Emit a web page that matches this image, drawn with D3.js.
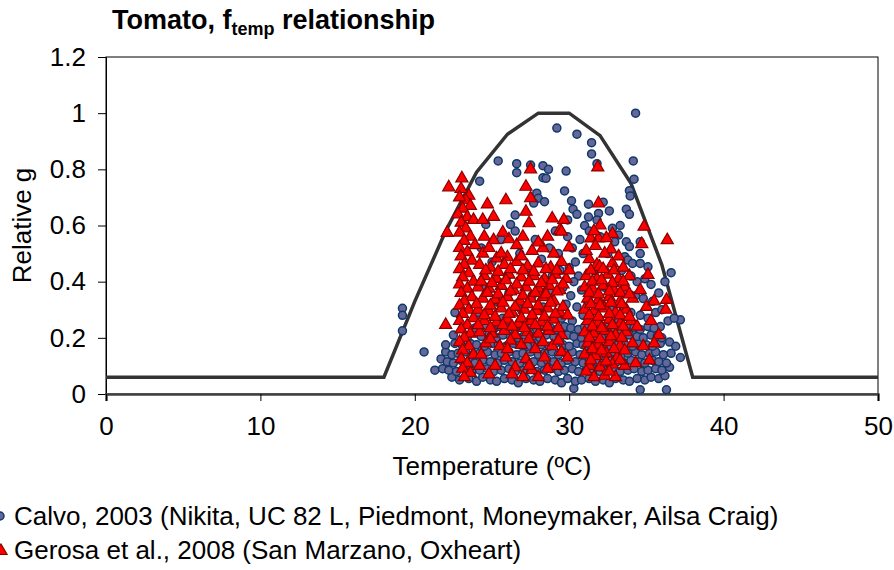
<!DOCTYPE html>
<html>
<head>
<meta charset="utf-8">
<script src="https://cdn.jsdelivr.net/npm/d3@7"></script>
<style>
  body { margin: 0; background: #fff; }
  svg { display: block; font-family: "Liberation Sans", Arial, sans-serif; }
</style>
</head>
<body>
<div id="chart"></div>
<script>
// tick labels
var xTicks = [0, 10, 20, 30, 40, 50];
var yTicks = [0, 0.2, 0.4, 0.6, 0.8, 1, 1.2];

// f_temp model line
var curveT = [0, 18, 20, 22, 24, 26, 28, 30, 32, 34, 36, 38, 50];
var curveG = [0.06, 0.06, 0.33, 0.58, 0.79, 0.925, 1.0, 1.0, 0.92, 0.75, 0.46, 0.06, 0.06];

// Calvo, 2003  [temperature, relative g]
var calvo = [
  [19.2,0.305],[19.2,0.28],[19.2,0.225],[20.6,0.15],[21.3,0.085],
  [34.3,1.0],[29.2,0.947],[30.5,0.925],[31.45,0.895],[31.45,0.855],[31.8,0.82],[34.15,0.83],[34.2,0.765],[33.9,0.724],[33.95,0.705],
  [28.3,0.813],[28.66,0.80],[28.3,0.77],[29.8,0.794],[29.7,0.723],[30.15,0.688],[30.25,0.658],[30.5,0.64],
  [31.25,0.676],[32.2,0.683],[32.6,0.652],[31.9,0.643],[31.25,0.63],[31.8,0.62],[33.7,0.658],[33.9,0.64],
  [25.4,0.83],[26.6,0.82],[26.6,0.788],[24.2,0.758],[27.5,0.815],[28.5,0.768],
  [26.5,0.637],[26.2,0.604],[26.5,0.58],[24.6,0.604],[27.9,0.715],[28.0,0.697],[28.4,0.685],[27.7,0.68],
  [32.8,0.59],[33.3,0.60],[33.2,0.566],[32.95,0.542],[33.7,0.542],[33.9,0.525],[33.6,0.489],[33.8,0.477],[34.1,0.465],
  [34.6,0.50],[34.6,0.465],[35.1,0.453],[34.6,0.542],[36.6,0.432],
  [37.2,0.264],[36.5,0.185],[36.9,0.17],[36.6,0.145],[37.2,0.13],[34.6,0.015],[36.3,0.015],[30.3,0.02],
  [24.3,0.52],[25.0,0.47],[25.6,0.55],[26.0,0.42],[26.8,0.50],[27.3,0.45],[27.8,0.55],[28.2,0.48],[28.7,0.52],[28.9,0.42],
  [24.6,0.38],[25.3,0.33],[26.1,0.36],[26.9,0.30],[27.6,0.35],[28.3,0.31],[28.8,0.36],[29.1,0.58],[29.3,0.50],[29.4,0.44],
  [29.6,0.38],[29.8,0.32],[29.5,0.27],[24.1,0.29],[25.7,0.27],
  [29.9,0.56],[30.2,0.52],[30.4,0.47],[30.6,0.42],[30.3,0.40],[30.8,0.37],[30.1,0.35],[30.5,0.31],[30.9,0.28],[30.2,0.26],
  [30.7,0.55],[30.9,0.50],[30.0,0.45],[31.0,0.60],[29.9,0.62],
  [33.4,0.44],[34.0,0.42],[34.4,0.40],[34.9,0.41],[35.3,0.39],[33.7,0.37],[34.3,0.35],[34.8,0.34],[35.4,0.33],[35.8,0.36],
  [33.5,0.31],[34.0,0.29],[34.6,0.28],[35.1,0.27],[35.6,0.29],[36.0,0.30],[36.4,0.26],[33.2,0.26],[35.9,0.24],[36.2,0.40],[36.8,0.27],
  [31.3,0.58],[32.0,0.56],[32.5,0.50],[31.6,0.44],[32.3,0.38],[31.2,0.33],[32.7,0.30],[31.9,0.27],
  [22.4,0.06],[22.9,0.05],[23.5,0.055],[24.0,0.045],[24.4,0.06],[24.9,0.05],[25.3,0.045],[25.8,0.055],[26.3,0.05],[26.7,0.04],
  [27.2,0.055],[27.7,0.05],[28.1,0.045],[28.6,0.055],[29.1,0.05],[29.5,0.04],[29.9,0.055],[30.4,0.045],[30.8,0.05],[31.3,0.055],
  [31.7,0.045],[32.2,0.05],[32.6,0.04],[33.0,0.055],[33.5,0.05],[33.9,0.045],[34.4,0.055],[34.9,0.05],[35.3,0.06],[35.8,0.055],[36.2,0.065],
  [21.8,0.09],[22.2,0.085],[22.7,0.08],[23.2,0.09],[23.7,0.08],[24.2,0.085],[24.7,0.09],[25.1,0.08],[25.6,0.085],[26.1,0.09],
  [26.5,0.08],[27.0,0.085],[27.5,0.09],[27.9,0.08],[28.4,0.085],[28.8,0.09],[29.3,0.08],[29.7,0.085],[30.2,0.09],[30.6,0.08],
  [31.1,0.085],[31.5,0.09],[32.0,0.08],[32.4,0.085],[32.9,0.09],[33.3,0.08],[33.8,0.085],[34.2,0.09],[34.7,0.08],[35.1,0.085],
  [35.6,0.09],[36.0,0.085],[36.5,0.095],
  [21.7,0.125],[22.1,0.115],[22.5,0.11],[23.0,0.12],[23.5,0.115],[23.9,0.11],[24.4,0.12],[24.9,0.115],[25.4,0.11],[25.8,0.12],
  [26.3,0.115],[26.8,0.11],[27.2,0.12],[27.7,0.115],[28.2,0.11],[28.6,0.12],[29.0,0.115],[29.5,0.11],[29.9,0.12],[30.4,0.115],
  [30.9,0.11],[31.3,0.12],[31.8,0.115],[32.2,0.11],[32.7,0.12],[33.1,0.115],[33.6,0.11],[34.0,0.12],[34.5,0.115],[34.9,0.11],
  [35.4,0.12],[35.8,0.115],[36.3,0.11],
  [22.0,0.15],[22.4,0.14],[22.8,0.145],[23.3,0.15],[23.8,0.14],[24.2,0.145],[24.7,0.15],[25.2,0.14],[25.6,0.145],[26.1,0.15],
  [26.6,0.14],[27.0,0.145],[27.5,0.15],[28.0,0.14],[28.4,0.145],[28.9,0.15],[29.3,0.14],[29.8,0.145],[30.2,0.15],[30.7,0.14],
  [31.1,0.145],[31.6,0.15],[32.0,0.14],[32.5,0.145],[32.9,0.15],[33.4,0.14],[33.8,0.145],[34.3,0.15],[34.7,0.14],[35.2,0.145],
  [35.6,0.15],[36.1,0.14],
  [22.0,0.175],[22.6,0.18],[23.1,0.17],[23.6,0.18],[24.0,0.175],[24.5,0.17],[25.0,0.18],[25.4,0.175],[25.9,0.17],[26.4,0.18],
  [26.8,0.175],[27.3,0.17],[27.8,0.18],[28.2,0.175],[28.7,0.17],[29.1,0.18],[29.6,0.175],[30.0,0.17],[30.5,0.18],[30.9,0.175],
  [31.4,0.17],[31.8,0.18],[32.3,0.175],[32.7,0.17],[33.2,0.18],[33.6,0.175],[34.1,0.17],[34.5,0.18],[35.0,0.175],[35.4,0.17],[35.9,0.18],
  [22.5,0.21],[23.4,0.2],[24.3,0.205],[24.8,0.21],[25.3,0.2],[25.7,0.21],[26.2,0.205],[26.7,0.2],[27.1,0.21],[27.6,0.205],
  [28.1,0.2],[28.5,0.21],[29.0,0.205],[29.4,0.2],[29.9,0.21],[30.3,0.205],[30.8,0.2],[31.2,0.21],[31.7,0.205],[32.1,0.2],
  [32.6,0.21],[33.0,0.205],[33.5,0.2],[33.9,0.21],[34.4,0.205],[34.8,0.2],[35.3,0.21],[35.7,0.205],
  [22.6,0.29],[23.9,0.235],[24.6,0.24],[25.1,0.23],[25.5,0.24],[26.0,0.235],[26.5,0.23],[27.0,0.24],[27.4,0.235],[27.9,0.23],
  [28.3,0.24],[28.8,0.235],[29.2,0.23],[29.7,0.24],[30.1,0.235],[30.6,0.23],[31.0,0.24],[31.5,0.235],[31.9,0.23],[32.4,0.24],
  [32.8,0.235],[33.3,0.23],[33.7,0.24],[34.2,0.235],[34.6,0.23],[35.1,0.24],[35.5,0.235],[36.0,0.2]
];

// Gerosa et al., 2008  [temperature, relative g]
var gerosa = [
  [23.05,0.768],[22.2,0.736],[23.5,0.706],[23.0,0.73],[23.3,0.69],[22.9,0.70],[23.6,0.67],[23.1,0.66],[22.8,0.64],[23.4,0.63],
  [23.8,0.62],[23.0,0.61],[23.3,0.59],[22.9,0.575],[22.1,0.574],[23.6,0.56],[23.2,0.545],[23.9,0.53],[22.9,0.52],[23.4,0.505],
  [23.0,0.49],[23.7,0.475],[23.2,0.46],[22.9,0.445],[23.5,0.43],[23.1,0.415],[23.8,0.40],[22.9,0.39],[23.4,0.375],[23.0,0.36],
  [23.7,0.345],[23.2,0.33],[22.9,0.315],[23.5,0.30],[23.1,0.285],[23.8,0.27],[22.9,0.26],[23.4,0.245],[22.0,0.246],[23.0,0.23],
  [23.6,0.215],[23.2,0.20],[22.9,0.185],[23.5,0.17],[23.1,0.155],[23.8,0.14],[23.0,0.125],[23.4,0.11],[23.1,0.09],[23.6,0.075],[23.2,0.06],
  [24.7,0.675],[25.9,0.69],[27.5,0.80],[27.2,0.738],[27.5,0.697],[27.2,0.649],[27.4,0.608],[24.4,0.62],[25.1,0.631],[25.1,0.548],
  [26.1,0.551],[26.6,0.53],[28.9,0.625],[29.4,0.584],[28.3,0.519],[28.6,0.56],[24.4,0.50],[25.3,0.483],[26.0,0.487],[29.65,0.62],
  [29.5,0.578],[30.0,0.522],
  [24.2,0.46],[24.9,0.45],[25.8,0.46],[26.6,0.47],[27.3,0.455],[28.0,0.465],[28.8,0.45],[29.5,0.47],
  [24.5,0.42],[25.3,0.41],[26.1,0.425],[26.9,0.415],[27.7,0.42],[28.4,0.41],[29.1,0.425],[29.8,0.41],
  [24.1,0.38],[24.8,0.375],[25.6,0.385],[26.4,0.37],[27.2,0.38],[28.0,0.375],[28.7,0.385],[29.4,0.37],
  [24.4,0.34],[25.2,0.335],[26.0,0.345],[26.8,0.33],[27.5,0.34],[28.3,0.345],[29.0,0.33],
  [24.1,0.30],[24.8,0.295],[25.6,0.305],[26.3,0.29],[27.1,0.30],[27.9,0.295],[28.6,0.305],[29.4,0.29],
  [24.5,0.26],[25.3,0.255],[26.0,0.265],[26.7,0.25],[27.5,0.26],[28.2,0.255],[29.0,0.265],
  [24.2,0.22],[25.0,0.215],[25.8,0.225],[26.5,0.21],[27.3,0.22],[28.0,0.215],[28.7,0.225],[29.5,0.21],
  [24.6,0.18],[25.5,0.17],[26.9,0.175],[27.8,0.16],[28.9,0.17],[24.3,0.14],[25.9,0.13],[27.2,0.125],[28.4,0.13],[26.5,0.095],
  [27.6,0.085],[28.0,0.06],[27.0,0.06],[25.2,0.10],[29.2,0.10],[24.8,0.07],
  [24.6,0.44],[25.4,0.435],[26.2,0.445],[27.0,0.44],[27.7,0.435],[28.5,0.445],[29.2,0.44],
  [24.3,0.40],[25.0,0.395],[25.9,0.405],[26.6,0.39],[27.4,0.40],[28.2,0.395],[28.9,0.405],[29.6,0.39],
  [24.7,0.36],[25.4,0.355],[26.2,0.365],[27.0,0.35],[27.8,0.36],[28.5,0.355],[29.2,0.365],
  [24.0,0.32],[24.9,0.315],[25.7,0.325],[26.5,0.31],[27.3,0.32],[28.0,0.315],[28.8,0.325],[29.6,0.31],
  [24.5,0.28],[25.2,0.275],[26.1,0.285],[26.9,0.27],[27.6,0.28],[28.4,0.275],[29.1,0.285],
  [24.1,0.245],[24.9,0.235],[25.7,0.245],[26.3,0.24],[27.1,0.235],[27.8,0.245],[28.6,0.24],[29.3,0.235],
  [24.9,0.195],[26.2,0.19],[27.4,0.195],[28.3,0.185],[29.3,0.19],
  [24.8,0.52],[25.6,0.50],[26.9,0.49],[27.6,0.51],[28.0,0.54],[29.0,0.50],[27.0,0.56],[25.7,0.575],[24.5,0.56],
  [24.2,0.10],[26.0,0.16],[26.3,0.07],[27.4,0.10],[28.6,0.09],[29.5,0.15],
  [31.85,0.807],[31.9,0.679],[34.85,0.596],[36.35,0.548],[34.7,0.534],[32.8,0.57],[31.4,0.554],[31.9,0.554],[32.7,0.515],[31.7,0.527],
  [31.3,0.48],[31.8,0.46],[32.8,0.465],[31.97,0.453],[35.1,0.424],[36.3,0.335],[36.25,0.30],[35.8,0.21],
  [31.1,0.42],[31.8,0.41],[32.5,0.425],[33.2,0.41],[33.9,0.42],
  [31.0,0.38],[31.5,0.375],[32.2,0.385],[32.9,0.37],[33.6,0.38],
  [31.2,0.34],[31.9,0.335],[32.6,0.345],[33.3,0.33],[34.1,0.34],
  [31.0,0.30],[31.6,0.295],[32.3,0.305],[33.0,0.29],[33.7,0.30],
  [31.2,0.26],[31.9,0.255],[32.6,0.265],[33.3,0.25],[34.0,0.26],
  [31.0,0.22],[31.6,0.215],[32.3,0.225],[33.0,0.21],[33.7,0.22],
  [31.2,0.18],[31.9,0.175],[32.6,0.185],[33.3,0.17],[34.1,0.18],
  [31.0,0.14],[31.7,0.135],[32.4,0.145],[33.1,0.13],
  [31.3,0.10],[32.0,0.095],[32.8,0.105],[33.6,0.10],
  [31.6,0.06],[32.3,0.065],[33.0,0.06],
  [31.4,0.44],[32.2,0.445],[32.9,0.44],[33.5,0.45],
  [31.5,0.40],[32.1,0.405],[32.8,0.395],[33.5,0.40],
  [31.3,0.36],[31.9,0.355],[32.6,0.365],[33.3,0.36],[33.9,0.355],
  [31.4,0.32],[32.0,0.315],[32.7,0.325],[33.4,0.32],
  [31.3,0.28],[31.9,0.275],[32.6,0.285],[33.3,0.28],[33.9,0.275],
  [31.5,0.24],[32.1,0.235],[32.8,0.245],[33.5,0.24],
  [31.3,0.20],[32.0,0.195],[32.7,0.205],[33.4,0.20],
  [31.5,0.16],[32.1,0.155],[32.9,0.16],[33.6,0.155],
  [31.4,0.12],[32.4,0.115],[33.3,0.12],
  [31.1,0.08],[32.6,0.08],
  [31.1,0.51],[32.3,0.50],[33.2,0.49],[32.4,0.555],[32.0,0.60],[31.6,0.58],
  [34.6,0.37],[35.0,0.31],[34.4,0.24],[35.3,0.26],[34.8,0.17],[35.5,0.33],[34.3,0.11],[35.2,0.12],[35.5,0.18],
  [30.0,0.44],[29.9,0.28],[29.9,0.13]
];

var legendLabels = [
  "Calvo, 2003 (Nikita, UC 82 L, Piedmont, Moneymaker, Ailsa Craig)",
  "Gerosa et al., 2008 (San Marzano, Oxheart)"
];

var W = 894, H = 570;
var plotLeft = 106, plotRight = 878, plotTop = 57, plotBottom = 394;

var svg = d3.select("#chart").append("svg")
  .attr("width", W)
  .attr("height", H);

var x = d3.scaleLinear().domain([0, 50]).range([plotLeft, plotRight]);
var y = d3.scaleLinear().domain([0, 1.2]).range([plotBottom, plotTop]);

// plot area frame (top + right)
svg.append("rect")
  .attr("x", plotLeft).attr("y", plotTop)
  .attr("width", plotRight - plotLeft).attr("height", plotBottom - plotTop)
  .attr("fill", "none").attr("stroke", "#000").attr("stroke-width", 1);

// y axis
var yAxis = svg.append("g")
  .attr("transform", "translate(" + plotLeft + ",0)")
  .call(d3.axisLeft(y).tickValues(yTicks).tickSize(8).tickPadding(12)
    .tickFormat(function(d) { return String(d); }));
yAxis.select(".domain").attr("stroke", "#000");
yAxis.selectAll("text").attr("font-size", 26).attr("fill", "#000")
  .attr("font-family", "Liberation Sans, Arial, sans-serif");

// x axis
var xAxis = svg.append("g")
  .attr("transform", "translate(0," + plotBottom + ")")
  .call(d3.axisBottom(x).tickValues(xTicks).tickSize(7).tickPadding(16));
xAxis.select(".domain").attr("stroke", "#404040").attr("stroke-width", 2.5);
xAxis.selectAll(".tick line").attr("stroke", "#000");
xAxis.selectAll("text").attr("font-size", 26).attr("fill", "#000")
  .attr("font-family", "Liberation Sans, Arial, sans-serif");

// model line
var line = d3.line()
  .x(function(d, i) { return x(d); })
  .y(function(d, i) { return y(curveG[i]); });
svg.append("path")
  .datum(curveT)
  .attr("d", line)
  .attr("fill", "none")
  .attr("stroke", "#333333")
  .attr("stroke-width", 3.5)
  .attr("stroke-linejoin", "miter");

// Calvo points
svg.append("g").selectAll("circle")
  .data(calvo)
  .enter()
  .append("circle")
    .attr("cx", function(d) { return x(d[0]); })
    .attr("cy", function(d) { return y(d[1]); })
    .attr("r", 4)
    .attr("fill", "#666699")
    .attr("stroke", "#0d3a6b")
    .attr("stroke-width", 1.5);

// Gerosa points
var tri = d3.symbol().type(d3.symbolTriangle).size(64);
svg.append("g").selectAll("path")
  .data(gerosa)
  .enter()
  .append("path")
    .attr("d", tri)
    .attr("transform", function(d) { return "translate(" + x(d[0]) + "," + y(d[1]) + ")"; })
    .attr("fill", "#ff0000")
    .attr("stroke", "#8b0000")
    .attr("stroke-width", 1.2);

// title
var title = svg.append("text")
  .attr("x", 112).attr("y", 29)
  .attr("font-size", 27).attr("font-weight", "bold").attr("fill", "#000");
title.append("tspan").text("Tomato, f");
title.append("tspan").attr("font-size", 18).attr("dy", 6).text("temp");
title.append("tspan").attr("dy", -6).text(" relationship");

// axis titles
svg.append("text")
  .attr("x", (plotLeft + plotRight) / 2).attr("y", 475)
  .attr("text-anchor", "middle").attr("font-size", 26)
  .text("Temperature (\u00baC)");

svg.append("text")
  .attr("transform", "translate(31," + ((plotTop + plotBottom) / 2) + ") rotate(-90)")
  .attr("text-anchor", "middle").attr("font-size", 26)
  .text("Relative g");

// legend
var leg = svg.append("g");
leg.append("circle")
  .attr("cx", 0).attr("cy", 516).attr("r", 4)
  .attr("fill", "#666699").attr("stroke", "#0d3a6b").attr("stroke-width", 1.5);
leg.append("path")
  .attr("d", tri)
  .attr("transform", "translate(1,551)")
  .attr("fill", "#ff0000").attr("stroke", "#8b0000").attr("stroke-width", 1.2);
leg.selectAll("text")
  .data(legendLabels)
  .enter()
  .append("text")
    .attr("x", 14)
    .attr("y", function(d, i) { return 525 + i * 34; })
    .attr("font-size", 26)
    .text(function(d) { return d; });
</script>
</body>
</html>
